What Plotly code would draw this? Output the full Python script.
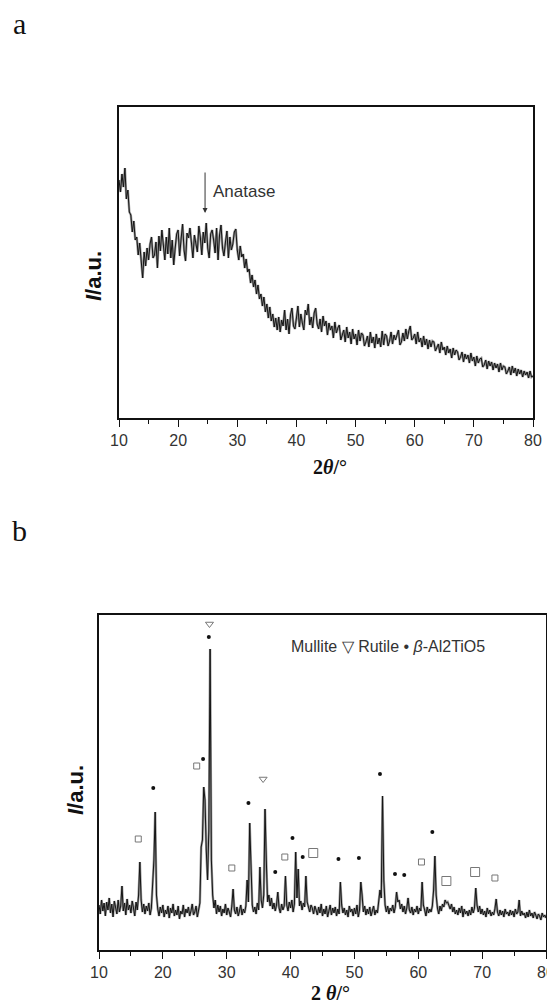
import plotly.graph_objects as go

# ---------------- data ----------------
# panel a: amorphous sample, 2theta from 10 to 80 in 0.25 deg steps
TOP_START, TOP_STEP = 10.0, 0.25
top_intensity = [
    238, 226, 244, 231,  250, 219, 228, 206,  203, 186, 197, 178,  181, 163, 175, 158,
    140, 166, 152, 170,  158, 174, 181, 160,  163, 176, 150, 182,  167, 188, 176, 158,
    181, 164, 190, 160,  178, 153, 170, 184,  188, 162, 179, 194,  168, 157, 185, 180,
    190, 171, 160, 183,  174, 166, 192, 181,  163, 186, 175, 195,  170, 160, 184, 188,
    178, 165, 190, 158,  183, 193, 170, 162,  176, 187, 160, 181,  168, 174, 186, 189,
    168, 158, 172, 161,  164, 150, 159, 146,  149, 135, 143, 131,  138, 124, 133, 119,
    124, 112, 121, 106,  114, 100, 111, 97,   104, 91, 100, 88,   101, 86, 98, 92,
    108, 88, 99, 84,     103, 110, 92, 89,    100, 112, 91, 104,  95, 88, 108, 103,
    114, 93, 101, 90,    105, 110, 94, 89,    99, 86, 102, 92,    97, 83, 95, 88,
    92, 80, 96, 85,      90, 93, 78, 84,      88, 76, 91, 80,     86, 74, 89, 79,
    84, 73, 88, 77,      85, 83, 72, 76,      82, 71, 86, 75,     81, 70, 84, 74,
    80, 71, 87, 73,      84, 82, 72, 77,      86, 74, 83, 78,     84, 88, 73, 76,
    85, 77, 89, 79,      87, 92, 78, 80,      84, 74, 86, 76,     80, 71, 82, 73,
    79, 69, 78, 71,      77, 76, 67, 70,      74, 65, 76, 68,     71, 63, 72, 65,
    69, 60, 70, 63,      68, 66, 58, 61,      66, 56, 64, 59,     63, 55, 65, 57,
    61, 52, 62, 55,      59, 60, 51, 53,      58, 49, 57, 52,     56, 48, 55, 50,
    54, 46, 55, 48,      52, 51, 44, 47,      51, 43, 52, 45,     50, 42, 49, 44,
    48, 41, 47, 43,      46, 40, 47, 41,
    42,
]

# panel b: crystallised sample, 2theta from 10 to 80 in 0.2 deg steps
BOT_START, BOT_STEP = 10.0, 0.2
bottom_intensity = [
    45, 36, 50, 39, 47,   34, 48, 40, 52, 37,   46, 33, 49, 41, 36,   50, 38, 44, 64, 39,
    47, 35, 51, 40, 45,   37, 49, 42, 34, 48,   40, 55, 88, 50, 38,   46, 36, 44, 39, 47,
    35, 42, 72, 90, 138,  55, 41, 34, 43, 37,   45, 33, 40, 36, 44,   32, 42, 37, 46, 34,
    40, 35, 44, 31, 39,   36, 45, 33, 41, 37,   43, 34, 39, 46, 35,   38, 44, 33, 40, 47,
    103, 110, 163, 150, 100,  70, 120, 301, 90, 55,  42, 50, 36, 45, 38,  44, 34, 41, 37, 46,
    35, 42, 38, 33, 44,   61, 40, 36, 43, 34,   39, 45, 35, 41, 37,   44, 70, 48, 127, 85,
    45, 38, 43, 36, 47,   40, 83, 50, 42, 55,   141, 90, 48, 55, 44,  52, 41, 47, 39, 45,
    58, 42, 37, 46, 40,   44, 74, 45, 39, 48,   42, 50, 38, 46, 98,   52, 81, 44, 49, 40,
    47, 43, 74, 48, 41,   38, 45, 42, 36, 44,   40, 35, 43, 37, 46,   34, 41, 36, 44, 33,
    39, 45, 35, 42, 37,   43, 34, 41, 36, 68,   45, 37, 42, 35, 40,   33, 44, 38, 41, 34,
    42, 36, 45, 33, 40,   68, 55, 38, 44, 35,   41, 36, 43, 34, 39,   44, 35, 40, 37, 46,
    60, 52, 154, 70, 45,  38, 44, 36, 42, 39,   45, 37, 43, 58, 48,   50, 41, 46, 38, 44,
    36, 42, 52, 40, 37,   43, 35, 41, 38, 44,   36, 42, 39, 68, 45,   40, 34, 43, 37, 41,
    38, 44, 60, 94, 55,   42, 36, 44, 39, 46,   43, 50, 47, 48, 44,   41, 46, 38, 43, 36,
    40, 35, 42, 37, 44,   33, 41, 36, 39, 34,   40, 35, 43, 37, 42,   62, 45, 38, 44, 36,
    41, 35, 39, 33, 42,   36, 40, 34, 38, 35,   41, 51, 38, 34, 40,   35, 39, 33, 41, 36,
    38, 34, 40, 35, 39,   33, 41, 36, 38, 50,   34, 39, 35, 37, 32,   38, 33, 40, 34, 37,
    32, 38, 35, 31, 36,   34, 30, 37, 33, 35,
    32,
]

# phase markers (2theta, height) in panel b
mullite_small_x = [16.15, 25.3, 30.8, 39.1, 60.5, 72.0]
mullite_small_y = [111, 184, 82, 93, 88, 72]
mullite_large_x = [43.55, 64.4, 68.9]
mullite_large_y = [97, 69, 78]
rutile_x = [27.3, 35.7]
rutile_y = [326, 171]
al2tio5_x = [18.5, 26.3, 27.2, 33.4, 37.6, 40.3, 41.9, 47.5, 50.7, 54.0, 56.35, 57.8, 62.2]
al2tio5_y = [162, 191, 313, 147, 78, 112, 93, 91, 92, 176, 76, 75, 118]

anatase_pos = 24.55
x_ticks = [10, 20, 30, 40, 50, 60, 70, 80]

# ---------------- figure ----------------
OFF = 8                       # default page margin around the plot div
W, H = 555 - OFF, 1003 - OFF
top_x = [TOP_START + i * TOP_STEP for i in range(len(top_intensity))]
bot_x = [BOT_START + i * BOT_STEP for i in range(len(bottom_intensity))]

def px_x(p):
    return (p - OFF) / W

def px_y(p):
    return 1 - (p - OFF) / H

fig = go.Figure()
halo = dict(color="#9a9a9a", width=2.4)
core = dict(color="#141414", width=1.0)
for xs, ys, xa, ya in [(top_x, top_intensity, "x", "y"), (bot_x, bottom_intensity, "x2", "y2")]:
    fig.add_trace(go.Scatter(x=xs, y=ys, mode="lines", line=halo, xaxis=xa, yaxis=ya,
                             showlegend=False, hoverinfo="skip"))
    fig.add_trace(go.Scatter(x=xs, y=ys, mode="lines", line=core, xaxis=xa, yaxis=ya,
                             showlegend=False, hoverinfo="skip"))
fig.add_trace(go.Scatter(x=mullite_small_x, y=mullite_small_y, mode="markers", xaxis="x2", yaxis="y2",
                         marker=dict(symbol="square-open", size=6, color="#777", line=dict(width=1)),
                         showlegend=False))
fig.add_trace(go.Scatter(x=mullite_large_x, y=mullite_large_y, mode="markers", xaxis="x2", yaxis="y2",
                         marker=dict(symbol="square-open", size=9, color="#777", line=dict(width=1)),
                         showlegend=False))
fig.add_trace(go.Scatter(x=rutile_x, y=rutile_y, mode="markers", xaxis="x2", yaxis="y2",
                         marker=dict(symbol="triangle-down-open", size=7, color="#777", line=dict(width=1)),
                         showlegend=False))
fig.add_trace(go.Scatter(x=al2tio5_x, y=al2tio5_y, mode="markers", xaxis="x2", yaxis="y2",
                         marker=dict(symbol="circle", size=4, color="#111"),
                         showlegend=False))

tickfont = dict(family="Liberation Sans, Arial", size=16, color="#333")
xcommon = dict(range=[10, 80], tickvals=x_ticks, ticks="outside", ticklen=7, tickwidth=1.3,
               tickcolor="#111", showline=True, linecolor="#111", linewidth=1.5, mirror=True,
               showgrid=False, zeroline=False, tickfont=tickfont, automargin=False,
               minor=dict(ticks="outside", dtick=5, ticklen=4, tickwidth=1.3, tickcolor="#111"))
ycommon = dict(showline=True, linecolor="#111", linewidth=1.5, mirror=True, showgrid=False,
               zeroline=False, showticklabels=False, ticks="", automargin=False)

fig.update_layout(
    width=W, height=H, template="none",
    margin=dict(l=0, r=0, t=0, b=0),
    paper_bgcolor="white", plot_bgcolor="white",
    xaxis=dict(domain=[px_x(119), px_x(533)], anchor="y", **xcommon),
    yaxis=dict(domain=[px_y(418), px_y(107)], anchor="x", range=[0, 311], **ycommon),
    xaxis2=dict(domain=[px_x(99), px_x(546)], anchor="y2", **xcommon),
    yaxis2=dict(domain=[px_y(950), px_y(615)], anchor="x2", range=[0, 335], **ycommon),
)

serif = "Liberation Serif, Times New Roman, serif"
sans = "Liberation Sans, Arial, sans-serif"

def paper_text(text, x, y, font, angle=0):
    return dict(text=text, x=px_x(x), y=px_y(y), xref="paper", yref="paper",
                xanchor="center", yanchor="middle", showarrow=False, textangle=angle, font=font)

ann = [
    paper_text("a", 19, 24, dict(family=serif, size=30, color="#111")),
    paper_text("b", 19, 530, dict(family=serif, size=30, color="#111")),
    paper_text("<b>2<i>θ</i>/°</b>", 330, 467, dict(family=serif, size=20, color="#111")),
    paper_text("<b>2 <i>θ</i>/°</b>", 330, 993, dict(family=serif, size=20, color="#111")),
    paper_text("<b><i>I</i>/a.u.</b>", 93, 276, dict(family=sans, size=22, color="#111"), -90),
    paper_text("<b><i>I</i>/a.u.</b>", 75, 790, dict(family=sans, size=22, color="#111"), -90),
    paper_text("Mullite ▽ Rutile • <i>β</i>-Al2TiO5", 388, 646, dict(family=sans, size=16, color="#333")),
    dict(text="", x=anatase_pos, y=205, ax=anatase_pos, ay=247, xref="x", yref="y",
         axref="x", ayref="y", showarrow=True, arrowhead=2, arrowsize=1, arrowwidth=1,
         arrowcolor="#333"),
    dict(text="Anatase", x=25.5, y=226, xref="x", yref="y", xanchor="left", yanchor="middle",
         showarrow=False, font=dict(family=sans, size=17, color="#333")),
]
fig.update_layout(annotations=ann)

fig.write_html("out.html")
